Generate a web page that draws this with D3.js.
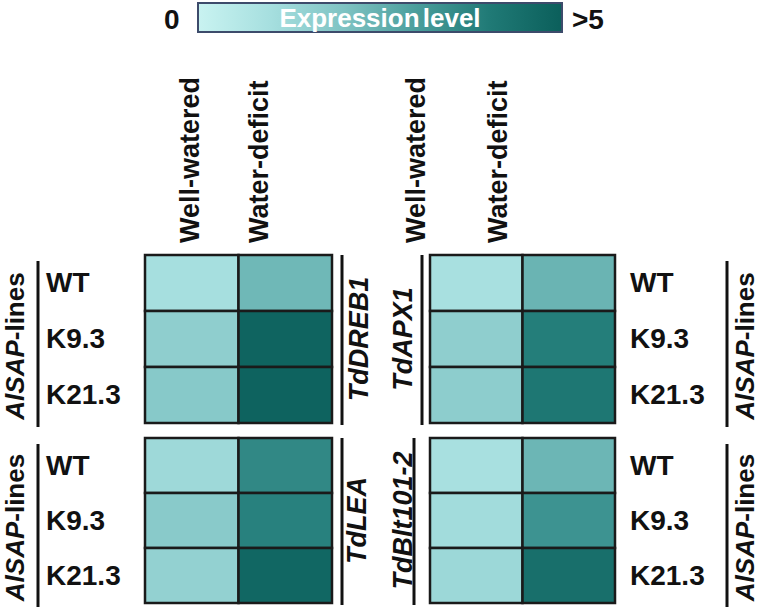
<!DOCTYPE html>
<html>
<head>
<meta charset="utf-8">
<script src="https://cdn.jsdelivr.net/npm/d3@7"></script>
<style>
  html, body { margin: 0; padding: 0; background: #fff; }
  svg { display: block; font-family: "Liberation Sans", Arial, sans-serif; }
</style>
</head>
<body>
<svg id="chart" width="761" height="615"></svg>
<script>
// ---- Data ----
const lines = ["WT", "K9.3", "K21.3"];
const conditions = ["Well-watered", "Water-deficit"];
const genes = ["TdDREB1", "TdAPX1", "TdLEA", "TdBlt101-2"];
const legendTicks = ["0", ">5"];
const colorStops = [0, 1, 2, 3, 4, 5];

// expression level per line (WT, K9.3, K21.3)
const dreb1WellWatered = [1.0, 1.6, 1.8];
const dreb1WaterDeficit = [2.3, 4.8, 4.85];
const apx1WellWatered = [0.95, 1.6, 1.65];
const apx1WaterDeficit = [2.4, 3.9, 4.1];
const leaWellWatered = [1.2, 1.75, 1.5];
const leaWaterDeficit = [3.6, 3.8, 4.7];
const blt101WellWatered = [0.95, 1.1, 1.25];
const blt101WaterDeficit = [2.35, 3.3, 4.4];

// ---- Layout ----
const svg = d3.select("#chart");
const color = d3.scaleLinear()
  .domain(colorStops)
  .range(["#c9f3f1", "#a6dfdf", "#7fc3c3", "#4a9e9c", "#207a76", "#0b5f5b"])
  .clamp(true);

const panels = [
  { gene: genes[0], ww: dreb1WellWatered, wd: dreb1WaterDeficit, x: [145, 332], y: [255, 423], side: "left",
    geneX: 368, geneLineX: 342 },
  { gene: genes[1], ww: apx1WellWatered, wd: apx1WaterDeficit, x: [430, 615], y: [255, 423], side: "right",
    geneX: 412, geneLineX: 422 },
  { gene: genes[2], ww: leaWellWatered, wd: leaWaterDeficit, x: [145, 332], y: [438, 603], side: "left",
    geneX: 366, geneLineX: 342 },
  { gene: genes[3], ww: blt101WellWatered, wd: blt101WaterDeficit, x: [430, 615], y: [438, 603], side: "right",
    geneX: 412, geneLineX: 414 }
];

const FONT = 27;

panels.forEach(p => {
  const x = d3.scaleBand().domain(conditions).range(p.x);
  const y = d3.scaleBand().domain(lines).range(p.y);
  const cells = [];
  lines.forEach((l, i) => {
    cells.push({ line: l, cond: conditions[0], v: p.ww[i] });
    cells.push({ line: l, cond: conditions[1], v: p.wd[i] });
  });
  const g = svg.append("g");
  g.selectAll("rect").data(cells).join("rect")
    .attr("x", d => x(d.cond))
    .attr("y", d => y(d.line))
    .attr("width", x.bandwidth())
    .attr("height", y.bandwidth())
    .attr("fill", d => color(d.v))
    .attr("stroke", "#1a1a1a")
    .attr("stroke-width", 2.5);

  const cy = (p.y[0] + p.y[1]) / 2;

  // Row labels
  const labelX = p.side === "left" ? 46 : 630;
  g.selectAll("text.row").data(lines).join("text")
    .attr("class", "row")
    .attr("x", labelX)
    .attr("y", d => y(d) + y.bandwidth() / 2 + 9)
    .attr("font-size", 28)
    .attr("font-weight", "bold")
    .attr("fill", "#111")
    .text(d => d);

  // group bracket line + AlSAP-lines label
  const brX = p.side === "left" ? 38 : 727;
  svg.append("line")
    .attr("x1", brX).attr("x2", brX)
    .attr("y1", p.y[0] + 6).attr("y2", p.y[1] + 4)
    .attr("stroke", "#111").attr("stroke-width", 3);
  const grpX = p.side === "left" ? 24 : 754;
  const grp = svg.append("text")
    .attr("transform", `translate(${grpX},${cy + 7}) rotate(-90)`)
    .attr("text-anchor", "middle")
    .attr("font-size", 26)
    .attr("font-weight", "bold")
    .attr("fill", "#111");
  grp.append("tspan").attr("font-style", "italic").text("AlSAP");
  grp.append("tspan").text("-lines");

  // gene label + line
  svg.append("line")
    .attr("x1", p.geneLineX).attr("x2", p.geneLineX)
    .attr("y1", p.y[0]).attr("y2", p.y[1] + 2)
    .attr("stroke", "#111").attr("stroke-width", 3);
  svg.append("text")
    .attr("transform", `translate(${p.geneX},${cy}) rotate(-90)`)
    .attr("text-anchor", "middle")
    .attr("font-size", FONT)
    .attr("font-weight", "bold")
    .attr("font-style", "italic")
    .attr("fill", "#111")
    .text(p.gene);
});

// Column headers
const headerX = [[199, 268], [425, 507]];
headerX.forEach(pair => {
  conditions.forEach((c, i) => {
    svg.append("text")
      .attr("transform", `translate(${pair[i]},243) rotate(-90)`)
      .attr("font-size", FONT)
      .attr("font-weight", "bold")
      .attr("fill", "#111")
      .text(c);
  });
});

// Legend
const defs = svg.append("defs");
const grad = defs.append("linearGradient").attr("id", "lg").attr("x1", "0%").attr("x2", "100%");
colorStops.forEach(s => {
  grad.append("stop").attr("offset", (s / 5 * 100) + "%").attr("stop-color", color(s));
});
const lx = d3.scaleLinear().domain([0, 5]).range([198, 562]);
svg.append("rect")
  .attr("x", lx(0)).attr("y", 3)
  .attr("width", lx(5) - lx(0)).attr("height", 29)
  .attr("fill", "url(#lg)")
  .attr("stroke", "#3d4b6b").attr("stroke-width", 2);
svg.append("text")
  .attr("x", 380).attr("y", 27)
  .attr("text-anchor", "middle")
  .attr("font-size", 26).attr("font-weight", "bold")
  .attr("fill", "#fff")
  .attr("word-spacing", -4)
  .text("Expression level");
svg.append("text").attr("x", 164).attr("y", 29)
  .attr("font-size", 28).attr("font-weight", "bold").attr("fill", "#111").text(legendTicks[0]);
svg.append("text").attr("x", 572).attr("y", 29)
  .attr("font-size", 28).attr("font-weight", "bold").attr("fill", "#111").text(legendTicks[1]);
</script>
</body>
</html>
